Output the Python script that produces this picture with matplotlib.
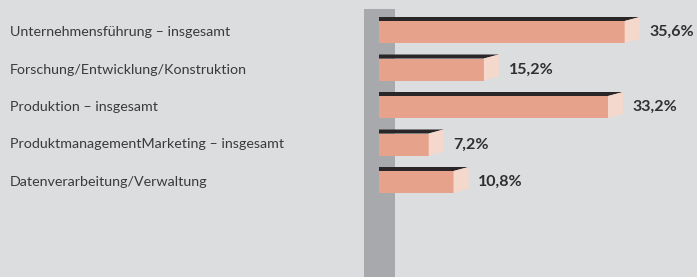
import matplotlib.pyplot as plt
from matplotlib.patches import Polygon, Rectangle
from matplotlib.transforms import blended_transform_factory

# data
categories = [
    "Unternehmensführung – insgesamt",
    "Forschung/Entwicklung/Konstruktion",
    "Produktion – insgesamt",
    "ProduktmanagementMarketing – insgesamt",
    "Datenverarbeitung/Verwaltung",
]
values = [35.6, 15.2, 33.2, 7.2, 10.8]
value_labels = ["35,6%", "15,2%", "33,2%", "7,2%", "10,8%"]

BG = "#dcdddf"
POST = "#a8a9ac"
FRONT = "#e6a28b"
SIDE = "#f5d8cc"
TOP = "#2a2627"
TEXT = "#2f2f2f"

W, H = 697, 277
PX_PER_UNIT = 6.9      # horizontal scale
ROW = 37.5             # row spacing in px
x0_px = 379            # where the bars start
y0_px = 32             # center of first row

fig = plt.figure(figsize=(W / 100, H / 100), dpi=100)
fig.patch.set_facecolor(BG)
ax = fig.add_axes([0, 0, 1, 1])
ax.set_facecolor(BG)
ax.set_xlim(-x0_px / PX_PER_UNIT, (W - x0_px) / PX_PER_UNIT)
ax.set_ylim((H - y0_px) / ROW, -y0_px / ROW)
ax.axis("off")

# grey post behind the bars
post_left = (364 - x0_px) / PX_PER_UNIT
post_w = 31 / PX_PER_UNIT
post_top = (9 - y0_px) / ROW
ax.add_patch(Rectangle((post_left, post_top), post_w, 10, facecolor=POST,
                       edgecolor="none", zorder=1))

bar_h = 22 / ROW
dx = 15 / PX_PER_UNIT
dy = 4 / ROW

ypos = list(range(len(values)))
ax.barh(ypos, values, height=bar_h, left=0, color=FRONT, zorder=3)

for y, v, lab in zip(ypos, values, value_labels):
    top = y - bar_h / 2
    bot = y + bar_h / 2
    # dark top strip
    ax.add_patch(Polygon([(0, top), (0, top - dy), (v + dx, top - dy), (v, top)],
                         closed=True, facecolor=TOP, edgecolor="none", zorder=3))
    # light side face
    ax.add_patch(Polygon([(v, top), (v + dx, top - dy), (v + dx, bot - dy), (v, bot)],
                         closed=True, facecolor=SIDE, edgecolor="none", zorder=3))
    ax.text(v + dx + 1.4, y, lab, ha="left", va="center", fontsize=11.5,
            fontweight="bold", family="Lato", color=TEXT, zorder=4)

trans = blended_transform_factory(fig.transFigure, ax.transData)
for y, cat in zip(ypos, categories):
    ax.text(10 / W, y, cat, transform=trans, ha="left", va="center",
            fontsize=10.3, fontweight="normal", family="Lato", color="#3a3a3a")

fig.savefig("out.png", dpi=100, facecolor=BG)
